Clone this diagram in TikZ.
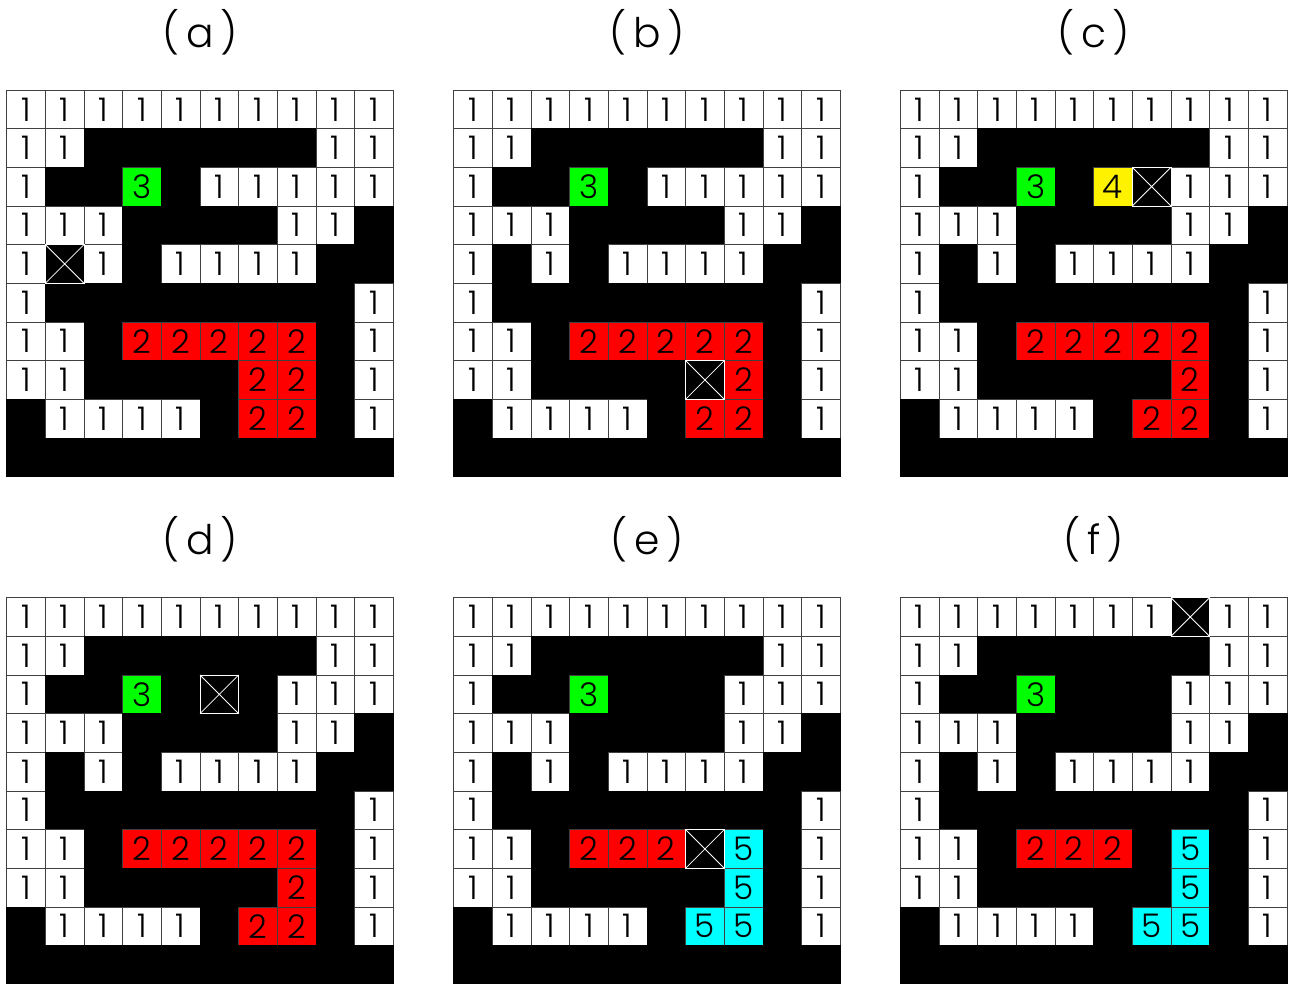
\documentclass[tikz,border=0pt]{standalone}
\usepackage{fontspec}
\usepackage{xcolor}
\usepackage{tikz}
\newfontfamily\gridfont{Poppins Light}
\definecolor{cellcyan}{RGB}{0,255,255}
\definecolor{cellgreen}{RGB}{0,255,0}

\tikzset{
  cellbase/.style={draw=black!75, line width=0.6pt, minimum size=1cm, inner sep=0pt,
    font=\gridfont\fontsize{24}{28}\selectfont},
  cell1/.style={cellbase, fill=white, node contents=1},
  cellb/.style={cellbase, fill=black, draw=black, node contents={}},
  cellg/.style={cellbase, fill=cellgreen, node contents=3},
  cellr/.style={cellbase, fill=red, node contents=2},
  celly/.style={cellbase, fill=yellow, node contents=4},
  cellc/.style={cellbase, fill=cellcyan, node contents=5},
  crossed/.style={cellbase, fill=black, draw=white, node contents={},
    path picture={\draw[white, line width=0.6pt]
      (path picture bounding box.north west) -- (path picture bounding box.south east)
      (path picture bounding box.south west) -- (path picture bounding box.north east);}},
  paneltitle/.style={font=\gridfont\fontsize{30}{34}\selectfont, inner sep=0pt}
}

% #1 tag, #2/#3 top left corner, #4/#5 crossed cell (row, col), #6 rows
\newcommand{\drawpanel}[6]{%
  \node[paneltitle] (t#1) at (#2+5, #3+1.5) {(\hspace{0.16em}#1\hspace{0.16em})};
  \foreach \row [count=\i from 0] in {#6} {
    \foreach \c [count=\j from 0] in \row {
      \node[name=#1-\i-\j, at={(#2+\j+0.5, #3-\i-0.5)}, cell\c];
    }
  }
  \node[name=#1-x, at={(#2+#5+0.5, #3-#4-0.5)}, crossed];
}

\begin{document}
\begin{tikzpicture}
  \useasboundingbox (0,0) rectangle (33.37,-25.45);

  % Panel (a)
  \drawpanel{a}{0.173}{-2.328}{4}{1}{
    {1,1,1,1,1,1,1,1,1,1},
    {1,1,b,b,b,b,b,b,1,1},
    {1,b,b,g,b,1,1,1,1,1},
    {1,1,1,b,b,b,b,1,1,b},
    {1,b,1,b,1,1,1,1,b,b},
    {1,b,b,b,b,b,b,b,b,1},
    {1,1,b,r,r,r,r,r,b,1},
    {1,1,b,b,b,b,r,r,b,1},
    {b,1,1,1,1,b,r,r,b,1},
    {b,b,b,b,b,b,b,b,b,b}}

  % Panel (b)
  \drawpanel{b}{11.736}{-2.328}{7}{6}{
    {1,1,1,1,1,1,1,1,1,1},
    {1,1,b,b,b,b,b,b,1,1},
    {1,b,b,g,b,1,1,1,1,1},
    {1,1,1,b,b,b,b,1,1,b},
    {1,b,1,b,1,1,1,1,b,b},
    {1,b,b,b,b,b,b,b,b,1},
    {1,1,b,r,r,r,r,r,b,1},
    {1,1,b,b,b,b,b,r,b,1},
    {b,1,1,1,1,b,r,r,b,1},
    {b,b,b,b,b,b,b,b,b,b}}

  % Panel (c)
  \drawpanel{c}{23.29}{-2.328}{2}{6}{
    {1,1,1,1,1,1,1,1,1,1},
    {1,1,b,b,b,b,b,b,1,1},
    {1,b,b,g,b,y,b,1,1,1},
    {1,1,1,b,b,b,b,1,1,b},
    {1,b,1,b,1,1,1,1,b,b},
    {1,b,b,b,b,b,b,b,b,1},
    {1,1,b,r,r,r,r,r,b,1},
    {1,1,b,b,b,b,b,r,b,1},
    {b,1,1,1,1,b,r,r,b,1},
    {b,b,b,b,b,b,b,b,b,b}}

  % Panel (d)
  \drawpanel{d}{0.173}{-15.46}{2}{5}{
    {1,1,1,1,1,1,1,1,1,1},
    {1,1,b,b,b,b,b,b,1,1},
    {1,b,b,g,b,b,b,1,1,1},
    {1,1,1,b,b,b,b,1,1,b},
    {1,b,1,b,1,1,1,1,b,b},
    {1,b,b,b,b,b,b,b,b,1},
    {1,1,b,r,r,r,r,r,b,1},
    {1,1,b,b,b,b,b,r,b,1},
    {b,1,1,1,1,b,r,r,b,1},
    {b,b,b,b,b,b,b,b,b,b}}

  % Panel (e)
  \drawpanel{e}{11.736}{-15.46}{6}{6}{
    {1,1,1,1,1,1,1,1,1,1},
    {1,1,b,b,b,b,b,b,1,1},
    {1,b,b,g,b,b,b,1,1,1},
    {1,1,1,b,b,b,b,1,1,b},
    {1,b,1,b,1,1,1,1,b,b},
    {1,b,b,b,b,b,b,b,b,1},
    {1,1,b,r,r,r,b,c,b,1},
    {1,1,b,b,b,b,b,c,b,1},
    {b,1,1,1,1,b,c,c,b,1},
    {b,b,b,b,b,b,b,b,b,b}}

  % Panel (f)
  \drawpanel{f}{23.29}{-15.46}{0}{7}{
    {1,1,1,1,1,1,1,b,1,1},
    {1,1,b,b,b,b,b,b,1,1},
    {1,b,b,g,b,b,b,1,1,1},
    {1,1,1,b,b,b,b,1,1,b},
    {1,b,1,b,1,1,1,1,b,b},
    {1,b,b,b,b,b,b,b,b,1},
    {1,1,b,r,r,r,b,c,b,1},
    {1,1,b,b,b,b,b,c,b,1},
    {b,1,1,1,1,b,c,c,b,1},
    {b,b,b,b,b,b,b,b,b,b}}
\end{tikzpicture}
\end{document}
